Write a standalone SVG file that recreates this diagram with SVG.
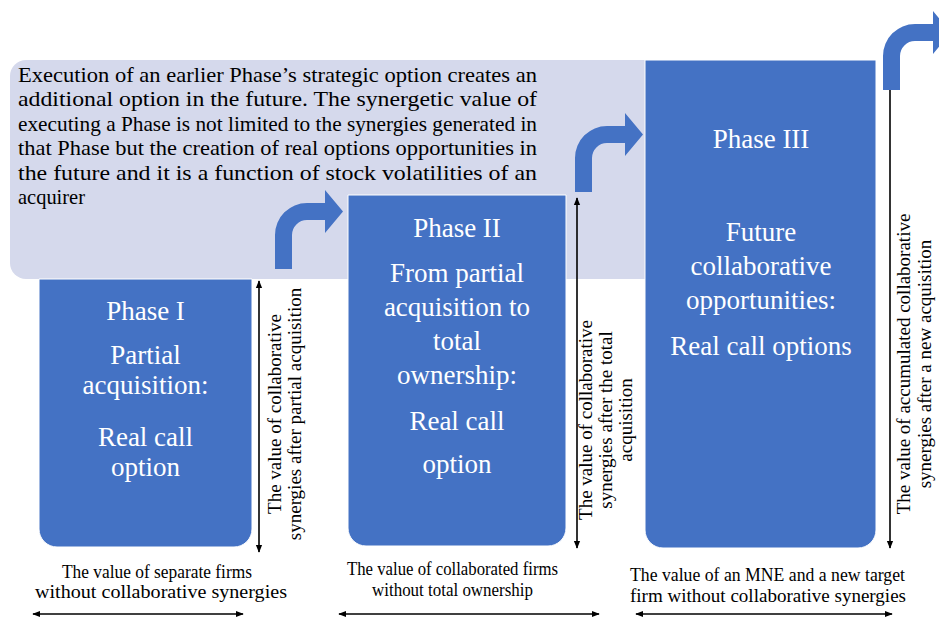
<svg xmlns="http://www.w3.org/2000/svg" xmlns:xlink="http://www.w3.org/1999/xlink" width="939" height="619" viewBox="0 0 939 619">
<defs>
<style>
.phase{fill:#4472c4;stroke:#ffffff;stroke-width:1}
.pt{font-family:"Liberation Serif","Times New Roman",serif;font-size:27px;fill:#ffffff;text-anchor:middle}
.body{font-family:"Liberation Serif","Times New Roman",serif;font-size:21px;fill:#000000}
.vt{font-family:"Liberation Serif","Times New Roman",serif;font-size:19px;fill:#000000;text-anchor:middle}
.bt{font-family:"Liberation Serif","Times New Roman",serif;font-size:18.5px;fill:#000000;text-anchor:middle}
.dim{stroke:#000000;stroke-width:1.6;fill:none}
.bent{fill:#4472c4}
</style>
<marker id="ah" viewBox="0 0 10 10" refX="9" refY="5" markerWidth="8" markerHeight="8" markerUnits="userSpaceOnUse" orient="auto-start-reverse">
<path d="M0,1 L10,5 L0,9 Z" fill="#000000"/>
</marker>
<path id="bentArrow" d="M0,0 V-34 A32,32 0 0 1 32,-66 H50 V-79 L68,-57.5 L50,-36 V-49 H32 A15,15 0 0 0 17,-34 V0 Z"/>
</defs>
<rect width="939" height="619" fill="#ffffff"/>

<g id="note">
<rect x="10" y="60" width="660" height="219" rx="16" ry="16" fill="#d5d9ec"/>
<text class="body" x="18" y="81.5" textLength="519" lengthAdjust="spacingAndGlyphs">Execution of an earlier Phase’s strategic option creates an</text>
<text class="body" x="18" y="106" textLength="519" lengthAdjust="spacingAndGlyphs">additional option in the future. The synergetic value of</text>
<text class="body" x="18" y="130.5" textLength="519" lengthAdjust="spacingAndGlyphs">executing a Phase is not limited to the synergies generated in</text>
<text class="body" x="18" y="155" textLength="519" lengthAdjust="spacingAndGlyphs">that Phase but the creation of real options opportunities in</text>
<text class="body" x="18" y="179.5" textLength="519" lengthAdjust="spacingAndGlyphs">the future and it is a function of stock volatilities of an</text>
<text class="body" x="18" y="204" textLength="67" lengthAdjust="spacingAndGlyphs">acquirer</text>
</g>

<g id="phase1">
<path class="phase" d="M39,279 H252 V529 A18,18 0 0 1 234,547 H57 A18,18 0 0 1 39,529 Z"/>
<text class="pt" x="145.5" y="320">Phase I</text>
<text class="pt" x="145.5" y="364">Partial</text>
<text class="pt" x="145.5" y="394">acquisition:</text>
<text class="pt" x="145.5" y="446">Real call</text>
<text class="pt" x="145.5" y="476">option</text>
</g>

<g id="phase2">
<path class="phase" d="M348,195 H566 V528 A18,18 0 0 1 548,546 H366 A18,18 0 0 1 348,528 Z"/>
<text class="pt" x="457" y="237">Phase II</text>
<text class="pt" x="457" y="282">From partial</text>
<text class="pt" x="457" y="316">acquisition to</text>
<text class="pt" x="457" y="350">total</text>
<text class="pt" x="457" y="384">ownership:</text>
<text class="pt" x="457" y="430">Real call</text>
<text class="pt" x="457" y="473">option</text>
</g>

<g id="phase3">
<path class="phase" d="M645,60 H876 V530 A18,18 0 0 1 858,548 H663 A18,18 0 0 1 645,530 Z"/>
<text class="pt" x="761" y="148">Phase III</text>
<text class="pt" x="761" y="241">Future</text>
<text class="pt" x="761" y="275">collaborative</text>
<text class="pt" x="761" y="309">opportunities:</text>
<text class="pt" x="761" y="355">Real call options</text>
</g>

<g id="connectors">
<use xlink:href="#bentArrow" href="#bentArrow" class="bent" transform="translate(275,269)"/>
<use xlink:href="#bentArrow" href="#bentArrow" class="bent" transform="translate(575,192)"/>
<use xlink:href="#bentArrow" href="#bentArrow" class="bent" transform="translate(883,90)"/>
<line class="dim" x1="259" y1="281" x2="259" y2="552" marker-start="url(#ah)" marker-end="url(#ah)"/>
<line class="dim" x1="577" y1="198" x2="577" y2="548" marker-start="url(#ah)" marker-end="url(#ah)"/>
<line class="dim" x1="890" y1="90" x2="890" y2="548" marker-end="url(#ah)"/>
<line class="dim" x1="33" y1="614" x2="243" y2="614" marker-start="url(#ah)" marker-end="url(#ah)"/>
<line class="dim" x1="339" y1="614" x2="599" y2="614" marker-start="url(#ah)" marker-end="url(#ah)"/>
<line class="dim" x1="636" y1="614" x2="892" y2="614" marker-start="url(#ah)" marker-end="url(#ah)"/>
</g>

<g id="labels">
<text class="vt" transform="translate(281,414) rotate(-90)">The value of collaborative</text>
<text class="vt" transform="translate(301,414) rotate(-90)">synergies after partial acquisition</text>
<text class="vt" transform="translate(592,420) rotate(-90)">The value of collaborative</text>
<text class="vt" transform="translate(612,420) rotate(-90)">synergies after the total</text>
<text class="vt" transform="translate(632,420) rotate(-90)">acquisition</text>
<text class="vt" transform="translate(910,364) rotate(-90)">The value of accumulated collaborative</text>
<text class="vt" transform="translate(931,364) rotate(-90)">synergies after a new acquisition</text>
<text class="bt" x="157" y="578" textLength="190" lengthAdjust="spacingAndGlyphs">The value of separate firms</text>
<text class="bt" x="161" y="598" textLength="252" lengthAdjust="spacingAndGlyphs">without collaborative synergies</text>
<text class="bt" x="452.5" y="575" textLength="211" lengthAdjust="spacingAndGlyphs">The value of collaborated firms</text>
<text class="bt" x="452.5" y="596" textLength="161" lengthAdjust="spacingAndGlyphs">without total ownership</text>
<text class="bt" x="767.5" y="581" textLength="275" lengthAdjust="spacingAndGlyphs">The value of an MNE and a new target</text>
<text class="bt" x="768" y="602" textLength="276" lengthAdjust="spacingAndGlyphs">firm without collaborative synergies</text>
</g>
</svg>
